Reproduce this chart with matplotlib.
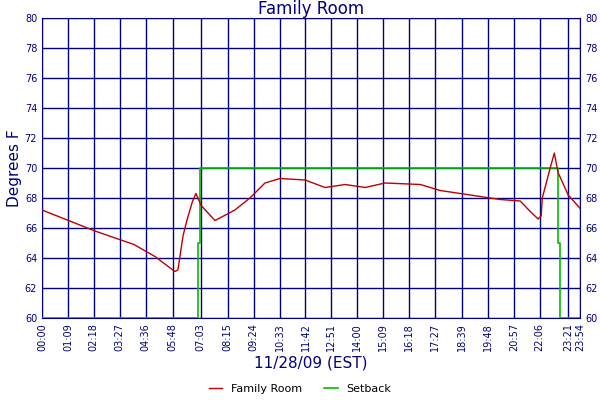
import matplotlib
matplotlib.use("Agg")
from matplotlib import pyplot as plt

navy = '#000080'

# temperature readings, minutes after midnight
temp_min = [0, 141, 245, 301, 354, 362, 376, 386, 400, 410, 424, 461, 514, 554, 594,
            634, 701, 754, 808, 861, 914, 1008, 1061, 1141, 1221, 1274, 1301, 1322,
            1330, 1333, 1354, 1365, 1375, 1402, 1434]
temp_val = [67.2, 65.8, 64.9, 64.1, 63.1, 63.2, 65.5, 66.5, 67.7, 68.3, 67.5, 66.5,
            67.2, 68.0, 69.0, 69.3, 69.2, 68.7, 68.9, 68.7, 69.0, 68.9, 68.5, 68.2,
            67.9, 67.8, 67.1, 66.6, 66.8, 68.0, 70.0, 71.0, 69.7, 68.2, 67.3]

setback_min = [0, 416, 416, 422, 422, 1376, 1376, 1380, 1380, 1434]
setback_val = [60, 60, 65, 65, 70, 70, 65, 65, 60, 60]

tick_lbl = ['00:00', '01:09', '02:18', '03:27', '04:36', '05:48', '07:03', '08:15',
            '09:24', '10:33', '11:42', '12:51', '14:00', '15:09', '16:18', '17:27',
            '18:39', '19:48', '20:57', '22:06', '23:21', '23:54']
tick_min = [int(t[:2]) * 60 + int(t[3:]) for t in tick_lbl]

fig = plt.figure(figsize=(6, 4), dpi=100)
ax = fig.add_axes([0.07, 0.205, 0.897, 0.75])
ax.plot(setback_min, setback_val, color='#00c000', lw=1.2, label='Setback', zorder=3)
ax.plot(temp_min, temp_val, color='#c00000', lw=1, label='Family Room', zorder=4)

ax.set_xlim(0, 1434)
ax.set_ylim(60, 80)
ax.set_xticks(tick_min)
ax.set_xticklabels(tick_lbl, rotation=90, fontsize=7, color=navy)
ax.set_yticks(range(60, 81, 2))
ax.tick_params(axis='y', labelsize=7, labelcolor=navy, right=True, labelright=True, length=0)
ax.tick_params(axis='x', length=0)
ax.grid(True, color=navy, lw=1)
for s in ax.spines.values():
    s.set_color(navy)
ax.set_title('Family Room', fontsize=12, color=navy, pad=2)
ax.set_ylabel('Degrees F', fontsize=11, color=navy, labelpad=2)
ax.set_xlabel('11/28/09 (EST)', fontsize=11, color=navy, labelpad=3)

h, l = ax.get_legend_handles_labels()
fig.legend(h[::-1], l[::-1], loc='lower center', ncol=2, frameon=False, fontsize=8,
           bbox_to_anchor=(0.5, -0.01), handlelength=1.2)

fig.savefig('out.png', dpi=100)
